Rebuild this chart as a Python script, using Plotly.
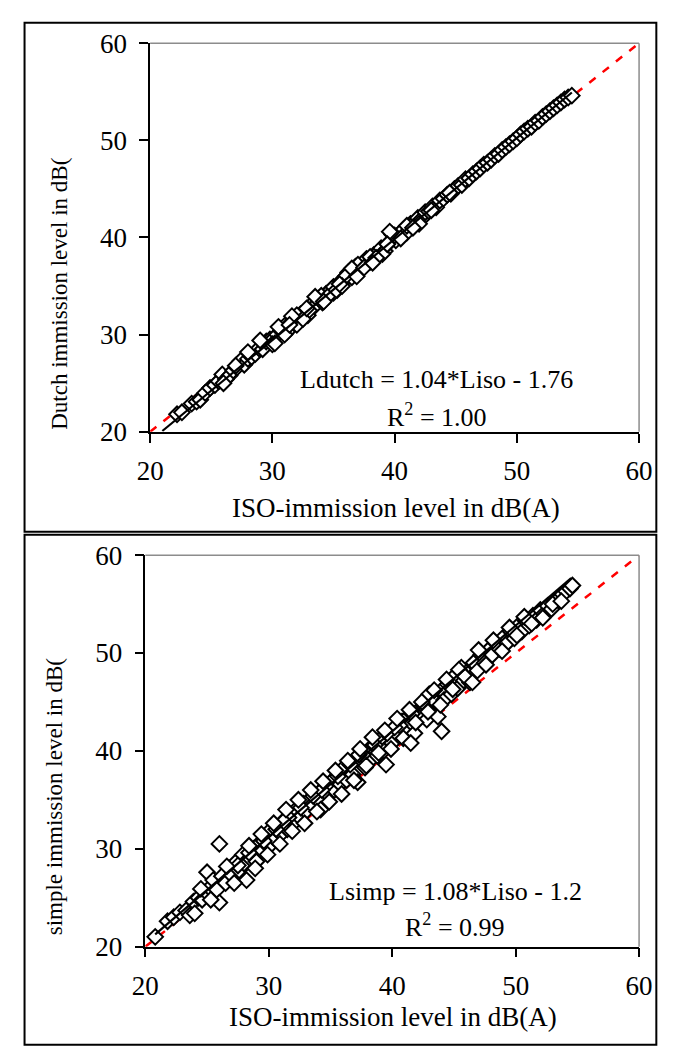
import plotly.graph_objects as go

# ---------------- data ----------------
# Upper panel: ISO level vs Dutch level
iso_dutch_x = [22.2, 22.6, 23.4, 23.8, 24.1, 24.5, 24.9, 25.3, 25.6, 25.9, 26.2, 26.5, 26.8, 27.1, 27.4,
               27.7, 28.0, 28.3, 28.6, 28.9, 29.2, 29.5, 29.8, 30.1, 30.4, 30.7, 31.0, 31.2, 31.5, 31.8,
               32.0, 32.3, 32.6, 32.9, 33.2, 33.5, 33.8, 34.1, 34.4, 34.7, 35.0, 35.3, 35.6, 35.9, 36.2,
               36.5, 36.8, 37.1, 37.4, 37.7, 38.0, 38.3, 38.6, 38.9, 39.2, 39.5, 39.8, 40.1, 40.4, 40.7,
               41.0, 41.3, 41.6, 41.9, 42.2, 42.5, 42.8, 43.1, 43.4, 43.7, 44.0, 44.3, 44.6, 44.9, 45.2,
               45.5, 45.8, 46.1, 46.4, 46.7, 47.0, 47.3, 47.6, 47.9, 48.2, 48.5, 48.8, 49.1, 49.4, 49.7,
               50.0, 50.3, 50.6, 50.9, 51.2, 51.5, 51.8, 52.1, 52.4, 52.7, 53.0, 53.3, 53.6, 53.9, 54.2,
               54.5, 29.0, 30.0, 31.0, 32.0, 33.0, 34.0, 35.0, 36.0, 37.0, 38.0, 39.0, 40.0, 41.0, 42.0,
               43.0, 30.5, 32.5, 34.5, 36.5, 38.5, 40.5, 26.0, 27.0, 28.0, 33.5, 37.5, 31.6, 35.7, 39.6,
               30.2, 31.4, 32.8, 34.2, 35.5, 36.9, 38.2, 39.4, 41.5, 44.5]
dutch_y = [21.8, 22.0, 22.9, 23.1, 23.3, 24.0, 24.5, 24.8, 25.2, 25.9, 25.4, 25.8, 26.3, 26.6, 27.3,
           26.9, 27.5, 27.7, 28.0, 28.6, 28.5, 29.3, 29.5, 29.6, 30.0, 30.4, 30.9, 30.3, 31.2, 31.5,
           31.0, 32.1, 32.3, 32.0, 33.1, 33.0, 33.7, 33.3, 34.2, 34.5, 34.9, 34.6, 35.5, 35.6, 36.4,
           35.9, 37.0, 36.6, 37.3, 37.8, 37.5, 38.2, 38.4, 38.9, 38.6, 39.4, 40.3, 39.7, 40.4, 40.8,
           40.5, 41.4, 41.5, 42.0, 41.9, 42.6, 42.7, 43.2, 43.1, 43.8, 44.0, 44.4, 44.5, 45.0, 45.3,
           45.4, 46.0, 46.1, 46.5, 46.8, 47.1, 47.5, 47.7, 48.0, 48.4, 48.6, 49.0, 49.3, 49.6, 49.9,
           50.2, 50.6, 50.9, 51.2, 51.4, 51.8, 52.0, 52.4, 52.7, 53.0, 53.3, 53.6, 53.9, 54.2, 54.4,
           54.6, 29.4, 29.0, 30.0, 32.0, 32.5, 34.0, 34.3, 36.0, 37.2, 38.0, 38.3, 40.2, 41.2, 41.4,
           42.8, 30.8, 31.6, 33.9, 36.8, 37.9, 39.9, 25.0, 26.8, 28.2, 33.9, 36.9, 31.9, 35.0, 40.6,
           29.1, 31.0, 32.7, 33.4, 35.2, 36.0, 37.4, 39.3, 41.0, 44.6]
dutch_trend_x = [21.0, 54.5]
dutch_trend_y = [20.08, 54.92]

# Lower panel: ISO level vs simple level
iso_simp_x = [20.8, 21.8, 22.3, 22.8, 23.3, 23.6, 23.9, 24.0, 24.3, 24.6, 24.9, 25.0, 25.2, 25.5, 25.8,
              26.0, 26.0, 26.2, 26.5, 26.8, 27.0, 27.3, 27.6, 27.9, 28.0, 28.2, 28.5, 28.8, 29.0, 29.2,
              29.5, 29.8, 30.0, 30.2, 30.5, 30.8, 31.0, 31.3, 31.5, 31.8, 32.0, 32.2, 32.5, 32.8, 33.0,
              33.3, 33.5, 33.8, 34.0, 34.2, 34.5, 34.8, 35.0, 35.3, 35.6, 35.8, 36.0, 36.3, 36.6, 36.8,
              37.0, 37.2, 37.5, 37.8, 38.0, 38.2, 38.5, 38.8, 39.0, 39.3, 39.5, 39.8, 40.0, 40.3, 40.5,
              40.8, 41.0, 41.3, 41.6, 41.8, 42.0, 42.3, 42.6, 42.8, 43.0, 43.2, 43.5, 43.7, 44.0, 44.2,
              44.5, 44.8, 45.0, 45.3, 45.6, 45.8, 46.0, 46.3, 46.6, 46.9, 47.2, 47.5, 47.8, 48.1, 48.4,
              48.7, 49.0, 49.3, 49.6, 49.9, 50.2, 50.5, 50.8, 51.1, 51.4, 51.7, 52.0, 52.3, 52.6, 52.9,
              53.2, 53.5, 53.8, 54.1, 54.4, 54.6, 28.4, 29.6, 30.6, 31.6, 32.6, 33.6, 34.6, 35.6, 36.6,
              37.6, 38.6, 39.6, 40.6, 41.6, 27.5, 31.2, 34.3, 37.3, 40.2,
              24.5, 25.3, 26.6, 27.2, 28.4, 28.9, 29.4, 29.9, 30.4, 30.9, 31.4, 31.9, 32.4, 32.9, 33.4,
              33.9, 34.4, 34.9, 35.4, 35.9, 36.4, 36.9, 37.4, 37.9, 38.4, 38.9, 39.4, 39.9, 40.4, 40.9,
              41.4, 41.9, 42.4, 42.9, 43.4, 43.9, 44.4, 44.9, 45.4, 45.9, 46.5, 47.0, 47.6, 48.2, 48.9,
              49.5, 50.1, 50.7, 51.3, 52.2, 53.0, 53.7, 44.0, 41.5]
simp_y = [21.0, 22.6, 23.0, 23.5, 23.7, 23.2, 24.6, 23.4, 25.0, 24.8, 25.6, 27.6, 26.0, 26.8, 25.8,
          30.5, 24.5, 27.2, 26.5, 28.0, 27.3, 28.6, 27.8, 29.4, 28.5, 26.8, 29.0, 30.0, 28.7, 30.5,
          29.8, 31.2, 30.2, 32.0, 31.0, 32.2, 31.5, 33.0, 32.0, 33.4, 32.6, 34.0, 33.2, 34.6, 33.8,
          35.0, 34.5, 35.4, 35.0, 34.0, 36.2, 35.5, 36.8, 36.0, 37.5, 36.6, 38.2, 37.0, 38.6, 37.6,
          39.2, 36.8, 39.0, 38.3, 40.0, 39.0, 40.6, 39.5, 41.2, 40.0, 38.6, 41.5, 40.8, 42.5, 41.6,
          43.0, 42.2, 43.5, 42.8, 41.8, 44.0, 43.5, 44.5, 43.2, 45.8, 44.6, 45.0, 43.5, 46.2, 45.2,
          46.8, 45.8, 47.6, 46.4, 48.5, 47.2, 48.0, 47.0, 49.0, 48.2, 49.8, 49.0, 50.3, 49.8, 51.0,
          50.4, 51.6, 51.0, 52.2, 51.5, 52.8, 52.2, 53.3, 52.8, 53.8, 53.4, 54.4, 54.0, 54.8, 54.5,
          55.3, 55.6, 56.0, 56.3, 56.6, 56.9, 29.6, 30.8, 32.0, 33.2, 34.2, 35.4, 36.4, 37.4, 38.6,
          39.6, 40.6, 41.8, 42.6, 43.8, 28.3, 32.8, 36.0, 39.6, 42.4,
          25.9, 24.8, 28.2, 26.5, 30.3, 28.0, 31.5, 29.4, 32.6, 30.5, 34.0, 31.8, 35.0, 32.6, 36.0,
          33.8, 36.9, 34.8, 38.0, 35.6, 39.0, 37.0, 40.2, 38.5, 41.4, 39.8, 42.1, 40.2, 43.3, 41.3,
          44.2, 42.9, 45.0, 44.0, 46.2, 44.7, 47.3, 46.3, 48.3, 47.6, 47.0, 50.3, 48.8, 51.3, 50.2,
          52.6, 51.8, 53.7, 53.0, 53.6, 55.0, 55.3, 42.0, 40.8]
simp_trend_x = [20.8, 54.5]
simp_trend_y = [21.26, 57.66]

identity_x = [20, 60]
identity_y = [20, 60]

tick_vals = [20, 30, 40, 50, 60]

# ---------------- figure ----------------
W, H = 678, 1052
FONT = "Liberation Serif"

def px_x(p):
    return p / W

def px_y(p):
    return 1 - p / H

fig = go.Figure()

panels = [
    dict(xa="x", ya="y", xs=iso_dutch_x, ys=dutch_y, tx=dutch_trend_x, ty=dutch_trend_y),
    dict(xa="x2", ya="y2", xs=iso_simp_x, ys=simp_y, tx=simp_trend_x, ty=simp_trend_y),
]

for p in panels:
    fig.add_trace(go.Scatter(x=identity_x, y=identity_y, mode="lines", xaxis=p["xa"], yaxis=p["ya"],
                             line=dict(color="red", width=2.5, dash="8px,9px"), cliponaxis=False,
                             showlegend=False, hoverinfo="skip"))
    fig.add_trace(go.Scatter(x=p["xs"], y=p["ys"], mode="markers", xaxis=p["xa"], yaxis=p["ya"],
                             marker=dict(symbol="diamond", size=12, color="white",
                                         line=dict(width=2, color="black")),
                             showlegend=False))
    fig.add_trace(go.Scatter(x=p["tx"], y=p["ty"], mode="lines", xaxis=p["xa"], yaxis=p["ya"],
                             line=dict(color="black", width=2.2), showlegend=False))

# pixel geometry of plot areas
up = dict(l=142, r=652, t=29, b=429)
lo = dict(l=137, r=652, t=556, b=959)

axis_common = dict(range=[20, 60], tickvals=tick_vals, showgrid=False, zeroline=False,
                   showline=True, linecolor="black", linewidth=1.5, ticks="outside",
                   ticklen=9, tickwidth=1.5, tickcolor="black",
                   tickfont=dict(family=FONT, size=27, color="black"))

fig.update_layout(
    width=W, height=H, margin=dict(l=0, r=0, t=0, b=0),
    paper_bgcolor="white", plot_bgcolor="white",
    xaxis=dict(domain=[px_x(up["l"]), px_x(up["r"])], anchor="y", ticklabelstandoff=5, **axis_common),
    yaxis=dict(domain=[px_y(up["b"]), px_y(up["t"])], anchor="x", ticklabelstandoff=7, **axis_common),
    xaxis2=dict(domain=[px_x(lo["l"]), px_x(lo["r"])], anchor="y2", ticklabelstandoff=5, **axis_common),
    yaxis2=dict(domain=[px_y(lo["b"]), px_y(lo["t"])], anchor="x2", ticklabelstandoff=7, **axis_common),
)

shapes = []
# outer panel frames
shapes.append(dict(type="rect", xref="paper", yref="paper", x0=px_x(11), x1=px_x(670),
                   y0=px_y(532), y1=px_y(8), line=dict(color="black", width=2)))
shapes.append(dict(type="rect", xref="paper", yref="paper", x0=px_x(11), x1=px_x(670),
                   y0=px_y(1060), y1=px_y(535), line=dict(color="black", width=2)))
# gray top/right plot borders
for g in (up, lo):
    shapes.append(dict(type="line", xref="paper", yref="paper", x0=px_x(g["l"]), x1=px_x(g["r"]),
                       y0=px_y(g["t"]), y1=px_y(g["t"]), line=dict(color="#8c8c8c", width=1.5)))
    shapes.append(dict(type="line", xref="paper", yref="paper", x0=px_x(g["r"]), x1=px_x(g["r"]),
                       y0=px_y(g["t"]), y1=px_y(g["b"]), line=dict(color="#8c8c8c", width=1.5)))
fig.update_layout(shapes=shapes)

ann = []
def txt(x, y, s, size=26, angle=0):
    ann.append(dict(xref="paper", yref="paper", x=px_x(x), y=px_y(y), text=s, showarrow=False,
                    textangle=angle, xanchor="center", yanchor="middle",
                    font=dict(family=FONT, size=size, color="black")))

txt(398, 507, "ISO-immission level in dB(A)", size=27)
txt(395, 1031, "ISO-immission level in dB(A)", size=27)
txt(48, 287, "Dutch immission level in dB(", size=23, angle=-90)
txt(42, 805, "simple immission level in dB(", size=23, angle=-90)
txt(441, 375, "Ldutch = 1.04*Liso - 1.76")
txt(441, 412, "R<sup>2</sup> = 1.00")
txt(460, 902, "Lsimp = 1.08*Liso - 1.2")
txt(460, 937, "R<sup>2</sup> = 0.99")
fig.update_layout(annotations=ann)

fig.write_html("out.html", config={"displayModeBar": False},
               post_script="document.body.style.margin='0px';")
